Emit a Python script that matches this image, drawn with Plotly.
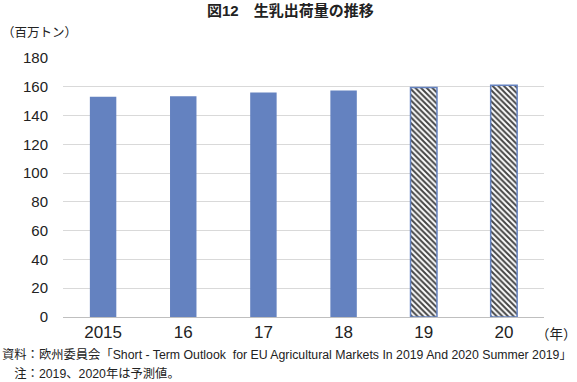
import plotly.graph_objects as go

years = ["2015", "16", "17", "18", "19", "20"]
values = [153.0, 153.5, 156.0, 157.5, 159.5, 161.0]
forecast = [False, False, False, False, True, True]

blue = "#6482C0"
font = "Arial, Liberation Sans, Noto Sans CJK JP"
fig = go.Figure()
fig.add_trace(go.Bar(
    x=years, y=values,
    marker=dict(
        color=["white" if f else blue for f in forecast],
        line=dict(color=blue, width=[1.5 if f else 0 for f in forecast]),
        pattern=dict(shape=["\\" if f else "" for f in forecast],
                     fillmode="overlay",
                     fgcolor=[blue] * len(years), fgopacity=1,
                     size=4, solidity=0.5),
    ),
    width=0.33,
))
L, R, T, B = 63, 33, 58, 65
W, H = 577 - L - R, 382 - T - B
fig.update_layout(
    width=577, height=382,
    margin=dict(l=L, r=R, t=T, b=B),
    paper_bgcolor="white", plot_bgcolor="white",
    font=dict(family=font, color="#222"),
    showlegend=False,
    xaxis=dict(showgrid=False, showline=True, linecolor="#BFBFBF", linewidth=1,
               tickfont=dict(size=17), ticks=""),
    yaxis=dict(range=[0, 180], dtick=20, showgrid=True, gridcolor="#D9D9D9",
               zeroline=False, tickfont=dict(size=15), ticklabelstandoff=14),
)
texts = [
    ("（百万トン）", 0, 24, 12.5),
    ("（年）", 534, 325, 13.5),
    ("資料：欧州委員会「Short - Term Outlook  for EU Agricultural Markets In 2019 And 2020 Summer 2019」", 0, 346, 12.3),
    ("　注：2019、2020年は予測値。", 0, 364, 12.3),
]
annotations = []
for t, x, y, s in texts:
    annotations.append(dict(text=t, x=(x - L) / W, y=1 - (y - T) / H,
                            xref="paper", yref="paper", xanchor="left", yanchor="top",
                            showarrow=False, font=dict(size=s)))
annotations.append(dict(text="<b>図12　生乳出荷量の推移</b>", x=(290 - L) / W, y=1 - (0 - T) / H,
                        xref="paper", yref="paper", xanchor="center", yanchor="top",
                        showarrow=False, font=dict(size=15)))
fig.update_layout(annotations=annotations)
fig.write_html("out.html", config={"displayModeBar": False},
               post_script="document.body.style.margin='0';")
